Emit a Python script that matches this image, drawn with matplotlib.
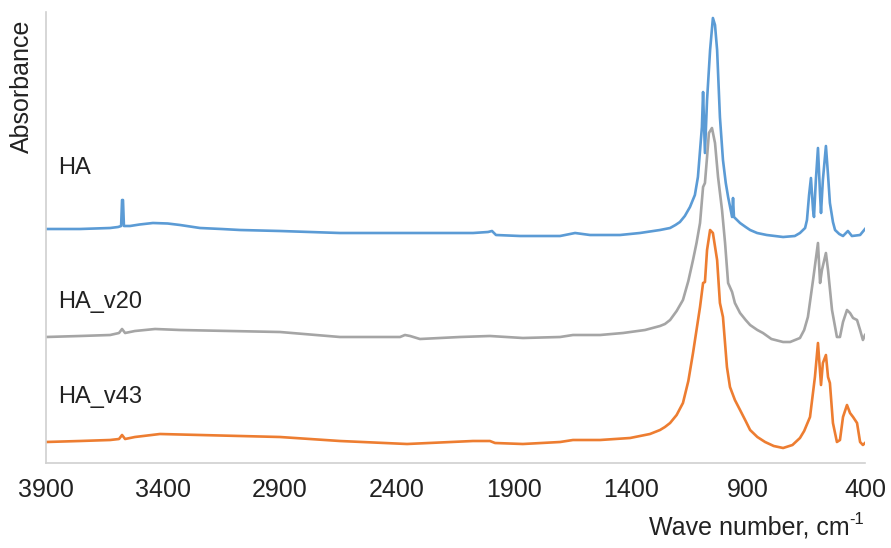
import matplotlib
matplotlib.use("Agg")
import matplotlib.pyplot as plt

# wave numbers (cm-1) and absorbance (traces already offset)
wn_ha = [3900, 3755, 3626, 3592, 3579, 3575, 3571, 3567, 3541, 3500, 3443, 3380, 3327, 3242,
         3150, 3071, 2900, 2644, 2302, 2075, 2011, 1994, 1977, 1874, 1703, 1639, 1575, 1447,
         1362, 1276, 1233, 1210, 1191, 1170, 1148, 1127, 1114, 1097, 1092, 1084, 1075, 1062,
         1050, 1041, 1032, 1020, 1007, 995, 985, 968, 964, 960, 934, 910, 891, 861, 820, 750,
         700, 678, 656, 648, 639, 631, 622, 618, 610, 601, 592, 588, 580, 567, 558, 550, 537,
         528, 510, 494, 473, 456, 421, 400]
ab_ha = [2.34, 2.34, 2.35, 2.36, 2.37, 2.63, 2.63, 2.37, 2.37, 2.385, 2.40, 2.395, 2.38, 2.35,
         2.34, 2.33, 2.32, 2.30, 2.30, 2.30, 2.31, 2.32, 2.28, 2.27, 2.27, 2.30, 2.28, 2.28,
         2.30, 2.33, 2.35, 2.38, 2.41, 2.47, 2.56, 2.68, 2.86, 3.36, 3.71, 3.10, 3.63, 4.13,
         4.45, 4.38, 4.13, 3.46, 3.03, 2.80, 2.66, 2.46, 2.65, 2.46, 2.40, 2.36, 2.33, 2.30,
         2.28, 2.26, 2.27, 2.30, 2.35, 2.43, 2.68, 2.85, 2.53, 2.46, 2.83, 3.15, 2.68, 2.50,
         2.83, 3.17, 2.88, 2.60, 2.41, 2.33, 2.29, 2.27, 2.32, 2.27, 2.28, 2.34]

wn_v20 = [3900, 3755, 3626, 3588, 3575, 3562, 3520, 3434, 3327, 3114, 2900, 2644, 2387, 2366,
          2344, 2302, 2131, 2003, 1862, 1703, 1648, 1532, 1434, 1340, 1276, 1255, 1233, 1205,
          1178, 1155, 1135, 1120, 1105, 1092, 1084, 1075, 1067, 1054, 1041, 1028, 1011, 998,
          985, 968, 956, 934, 910, 891, 860, 836, 800, 750, 720, 678, 660, 644, 622, 601, 592,
          584, 567, 558, 541, 520, 507, 494, 477, 464, 451, 434, 421, 409, 400]
ab_v20 = [1.26, 1.27, 1.28, 1.30, 1.34, 1.30, 1.32, 1.34, 1.33, 1.32, 1.31, 1.26, 1.26, 1.28,
          1.27, 1.24, 1.26, 1.27, 1.25, 1.26, 1.28, 1.28, 1.30, 1.33, 1.37, 1.39, 1.43, 1.52,
          1.63, 1.82, 2.03, 2.20, 2.40, 2.76, 2.80, 3.06, 3.30, 3.35, 3.20, 2.86, 2.53, 2.20,
          1.80, 1.71, 1.60, 1.50, 1.43, 1.38, 1.33, 1.30, 1.24, 1.21, 1.21, 1.25, 1.33, 1.46,
          1.83, 2.20, 1.80, 1.93, 2.10, 1.93, 1.53, 1.26, 1.26, 1.41, 1.53, 1.50, 1.45, 1.43,
          1.33, 1.23, 1.28]

wn_v43 = [3900, 3755, 3626, 3588, 3575, 3562, 3520, 3413, 3242, 2900, 2644, 2357, 2075, 2003,
          1981, 1862, 1703, 1648, 1532, 1404, 1319, 1276, 1255, 1233, 1205, 1178, 1155, 1135,
          1120, 1105, 1092, 1084, 1075, 1062, 1050, 1032, 1020, 1007, 990, 977, 956, 934, 910,
          891, 860, 827, 790, 750, 710, 678, 660, 635, 614, 601, 588, 580, 567, 558, 550, 537,
          520, 507, 494, 477, 464, 451, 434, 421, 409, 400]
ab_v43 = [0.21, 0.22, 0.23, 0.24, 0.28, 0.24, 0.26, 0.29, 0.28, 0.26, 0.22, 0.19, 0.22, 0.22,
          0.20, 0.19, 0.21, 0.23, 0.23, 0.25, 0.29, 0.33, 0.36, 0.40, 0.48, 0.60, 0.82, 1.10,
          1.33, 1.56, 1.80, 1.81, 2.13, 2.33, 2.30, 2.03, 1.60, 1.46, 0.96, 0.76, 0.63, 0.53,
          0.42, 0.33, 0.26, 0.21, 0.17, 0.15, 0.18, 0.25, 0.32, 0.46, 0.86, 1.20, 0.78, 1.00,
          1.08, 0.86, 0.80, 0.40, 0.21, 0.23, 0.46, 0.58, 0.50, 0.46, 0.40, 0.21, 0.18, 0.20]

series = [
    ("HA", wn_ha, ab_ha, "#5B9BD5", 2.95),
    ("HA_v20", wn_v20, ab_v20, "#A5A5A5", 1.61),
    ("HA_v43", wn_v43, ab_v43, "#ED7D31", 0.66),
]
xticks = [3900, 3400, 2900, 2400, 1900, 1400, 900, 400]

plt.rcParams["font.family"] = ["Liberation Sans", "DejaVu Sans"]
text_col = "#222222"

fig = plt.figure(figsize=(8.91, 5.48), dpi=100)
ax = fig.add_axes([46 / 891, 85 / 548, 819 / 891, 451 / 548])

for name, wn, ab, col, label_y in series:
    ax.plot(wn, ab, color=col, lw=1.9, solid_joinstyle="round")
    ax.text(3850, label_y, name, fontsize=17, color=text_col, va="center", ha="left")

ax.set_xlim(3900, 400)
ax.set_ylim(0, 4.51)
ax.set_xticks(xticks)
ax.set_xticklabels([str(t) for t in xticks])
ax.set_yticks([])
ax.tick_params(axis="x", length=0, pad=11, labelsize=18, labelcolor=text_col)

for s in ["top", "right"]:
    ax.spines[s].set_visible(False)
for s in ["left", "bottom"]:
    ax.spines[s].set_color("#D0D0D0")
    ax.spines[s].set_linewidth(1.2)

fig.text(22 / 891, 1 - 20 / 548, "Absorbance", rotation=90, fontsize=18,
         color=text_col, ha="center", va="top")

# x title with a plain "-1" superscript, as in the original
sup = fig.text(864 / 891, 1 - 519 / 548, "-1", fontsize=12, color=text_col,
               ha="right", va="center")
fig.canvas.draw()
sup_w = sup.get_window_extent().width / fig.bbox.width
fig.text(864 / 891 - sup_w, 1 - 527 / 548, "Wave number, cm", fontsize=18,
         color=text_col, ha="right", va="center")

fig.savefig("out.png", dpi=100)
